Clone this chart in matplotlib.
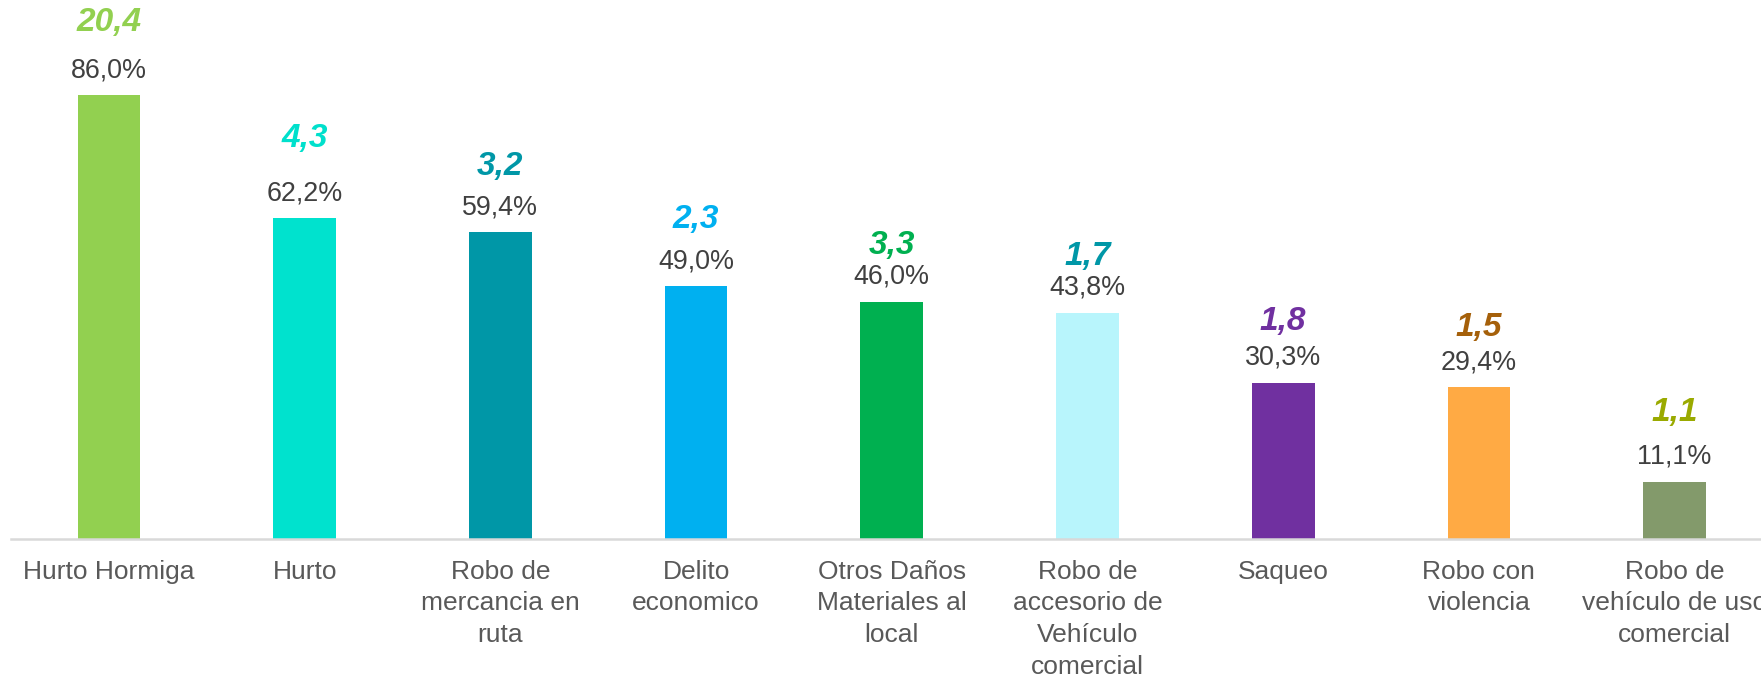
import numpy as np
import matplotlib.pyplot as plt

plt.rcParams['font.family'] = ['Liberation Sans', 'DejaVu Sans']

categories = ['Hurto Hormiga', 'Hurto', 'Robo de\nmercancia en\nruta', 'Delito\neconomico',
              'Otros Daños\nMateriales al\nlocal', 'Robo de\naccesorio de\nVehículo\ncomercial',
              'Saqueo', 'Robo con\nviolencia', 'Robo de\nvehículo de uso\ncomercial']
shares = [86.0, 62.2, 59.4, 49.0, 46.0, 43.8, 30.3, 29.4, 11.1]
notes = [20.4, 4.3, 3.2, 2.3, 3.3, 1.7, 1.8, 1.5, 1.1]

bar_colors = ['#92D050', '#00E2CE', '#0097A7', '#00B0F0', '#00B050',
              '#B8F5FC', '#7030A0', '#FFAA44', '#839A6B']
note_colors = ['#92D050', '#00E0CC', '#0097A7', '#00B0F0', '#00B050',
               '#0097A7', '#7030A0', '#A5600A', '#9AAA00']
# hand-placed lift (px) of the italic notes above each bar
note_lift = [73, 80, 66, 67, 56, 56, 61, 60, 69]

W, H = 1761, 674
fig = plt.figure(figsize=(W / 100, H / 100), dpi=100)
step = 195.7
left = 109 - step / 2
ax = fig.add_axes([left / W, 1 - 539 / H, 9 * step / W, 539 / H])

x = np.arange(len(categories))
bars = ax.bar(x, shares, width=0.32, color=bar_colors, zorder=2)

for b, s, n, c, lift in zip(bars, shares, notes, note_colors, note_lift):
    cx = b.get_x() + b.get_width() / 2
    ax.annotate(f'{s:.1f}%'.replace('.', ','), (cx, s), xytext=(0, 25 * 0.72),
                textcoords='offset points', ha='center', va='center',
                fontsize=19.4, color='#404040')
    ax.annotate(f'{n:.1f}'.replace('.', ','), (cx, s), xytext=(0, lift * 0.72),
                textcoords='offset points', ha='center', va='center',
                fontsize=24, color=c, fontweight='bold', fontstyle='italic')

ax.set_xlim(-0.5, len(categories) - 0.5)
ax.set_ylim(0, 539 / 5.16)
ax.set_xticks(x)
ax.set_xticklabels(categories, fontsize=19, color='#595959', linespacing=1.4)
ax.tick_params(axis='x', length=0, pad=15)
ax.set_yticks([])
for side in ['left', 'right', 'top']:
    ax.spines[side].set_visible(False)
ax.spines['bottom'].set_color('#D9D9D9')
ax.spines['bottom'].set_linewidth(1.8)

fig.savefig('out.png', dpi=100)
